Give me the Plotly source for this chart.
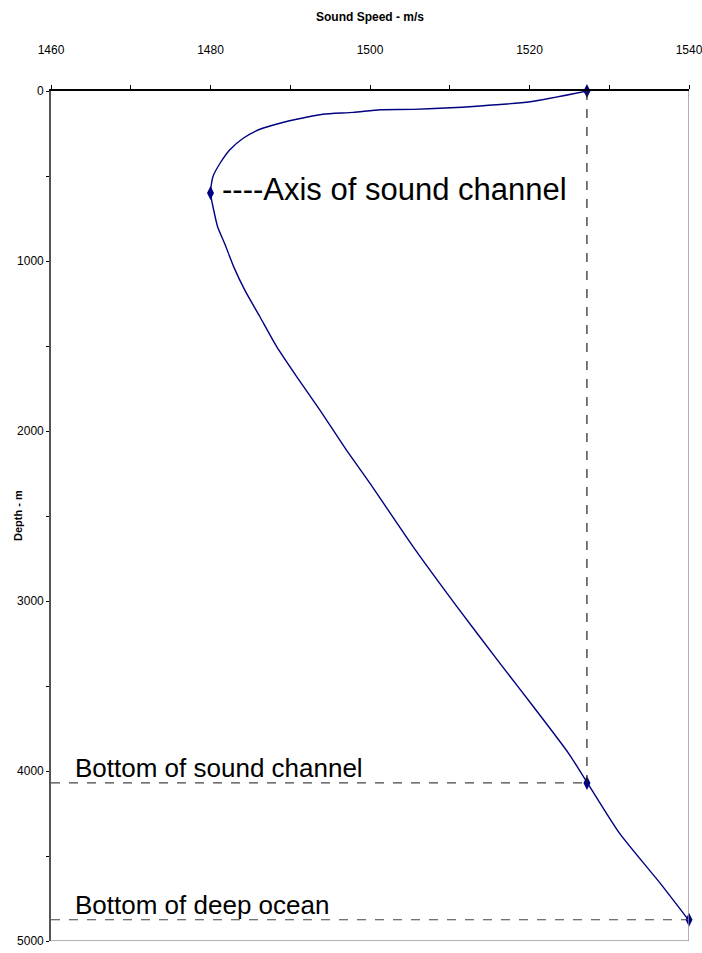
import plotly.graph_objects as go

# Sound-speed profile of a deep ocean column
depth_m = [0, 63, 88, 108, 110, 126, 137, 166, 190, 225, 278, 347, 425, 504, 600,
           700, 800, 900, 1033, 1171, 1328, 1504, 1680, 1876, 2102, 2308, 2680,
           3033, 3367, 3622, 3896, 4065, 4367, 4661, 4880]
speed_ms = [1527.2, 1520.1, 1513.8, 1505.4, 1501.3, 1497.9, 1494.1, 1490.8, 1488.7,
            1486.2, 1484.1, 1482.4, 1481.2, 1480.3, 1480.0, 1480.4, 1480.9, 1481.8,
            1482.9, 1484.3, 1486.2, 1488.3, 1490.8, 1493.7, 1496.9, 1500.0, 1505.4,
            1510.9, 1516.3, 1520.5, 1524.9, 1527.2, 1531.3, 1536.4, 1540.0]

# Key points: surface, sound-channel axis, bottom of channel, sea floor
key_labels = ["Surface", "Axis of sound channel", "Bottom of sound channel", "Bottom of deep ocean"]
key_speed = [1527.2, 1480.0, 1527.2, 1540.0]
key_depth = [0, 600, 4070, 4875]

x_range = [1460, 1540]
y_range = [5000, 0]
x_ticks = [1460, 1480, 1500, 1520, 1540]
y_ticks = [0, 1000, 2000, 3000, 4000, 5000]

NAVY = "#000080"
NARROW = "Liberation Sans Narrow, Arial Narrow, Liberation Sans, Arial, sans-serif"
ARIAL = "Liberation Sans, Arial, sans-serif"

fig = go.Figure()

fig.add_trace(go.Scatter(
    x=speed_ms, y=depth_m, mode="lines",
    line=dict(color=NAVY, width=1.4, shape="spline", smoothing=0.6),
    hoverinfo="skip", showlegend=False,
))
fig.add_trace(go.Scatter(
    x=key_speed, y=key_depth, mode="markers", text=key_labels,
    marker=dict(symbol="diamond-tall", size=10, color=NAVY),
    cliponaxis=False, showlegend=False,
))

dash = dict(color="#222222", width=1.2, dash="dash")
# vertical: surface speed down to where it recurs at depth
fig.add_shape(type="line", x0=key_speed[0], x1=key_speed[2], y0=key_depth[0], y1=key_depth[2], line=dash)
# horizontal reference lines at channel bottom and sea floor
hdash = dict(color="#444444", width=1.2, dash="dash")
fig.add_shape(type="line", x0=x_range[0], x1=key_speed[2], y0=key_depth[2], y1=key_depth[2], line=hdash)
fig.add_shape(type="line", x0=x_range[0], x1=key_speed[3], y0=key_depth[3], y1=key_depth[3], line=hdash)

# right and bottom frame
frame = dict(color="#999999", width=1.5)
fig.add_shape(type="line", x0=x_range[1], x1=x_range[1], y0=y_range[1], y1=y_range[0], line=frame)
fig.add_shape(type="line", x0=x_range[0], x1=x_range[1], y0=y_range[0], y1=y_range[0], line=frame)

fig.add_annotation(x=key_speed[1], y=key_depth[1], xref="x", yref="y",
                   text="----" + key_labels[1], showarrow=False,
                   xanchor="left", yanchor="middle", xshift=9, yshift=4,
                   font=dict(family=ARIAL, size=31, color="black"))
fig.add_annotation(x=x_range[0], y=key_depth[2], xref="x", yref="y",
                   text=key_labels[2], showarrow=False,
                   xanchor="left", yanchor="bottom", xshift=22, yshift=-2,
                   font=dict(family=ARIAL, size=26, color="black"))
fig.add_annotation(x=x_range[0], y=key_depth[3], xref="x", yref="y",
                   text=key_labels[3], showarrow=False,
                   xanchor="left", yanchor="bottom", xshift=22, yshift=-2,
                   font=dict(family=ARIAL, size=26, color="black"))

# axis titles
fig.add_annotation(x=0.5, y=1, xref="paper", yref="paper", yshift=74,
                   text="<b>Sound Speed - m/s</b>", showarrow=False,
                   xanchor="center", yanchor="middle",
                   font=dict(family=NARROW, size=12, color="black"))
fig.add_annotation(x=0, y=0.5, xref="paper", yref="paper", xshift=-33,
                   text="<b>Depth - m</b>", showarrow=False, textangle=-90,
                   xanchor="center", yanchor="middle",
                   font=dict(family=NARROW, size=11, color="black"))

fig.update_layout(
    width=702, height=953,
    margin=dict(l=51, r=13, t=91, b=12, autoexpand=False),
    paper_bgcolor="white", plot_bgcolor="white",
    xaxis=dict(
        side="top", range=x_range, tickvals=x_ticks, automargin=False,
        ticks="outside", ticklen=4, tickcolor="black", tickwidth=1,
        minor=dict(dtick=10, ticks="outside", ticklen=4, tickcolor="black", tickwidth=1),
        ticklabelstandoff=26, ticklabeloverflow="allow",
        showline=True, linecolor="black", linewidth=1.6,
        showgrid=False, zeroline=False,
        tickfont=dict(family=NARROW, size=12, color="black"),
    ),
    yaxis=dict(
        range=y_range, tickvals=y_ticks, automargin=False,
        ticks="outside", ticklen=3, tickcolor="black", tickwidth=1,
        minor=dict(dtick=500, ticks="outside", ticklen=3, tickcolor="black", tickwidth=1),
        showline=True, linecolor="#555555", linewidth=1.6,
        showgrid=False, zeroline=False, ticklabeloverflow="allow",
        tickfont=dict(family=NARROW, size=12, color="black"),
    ),
)

fig.write_html("out.html")
